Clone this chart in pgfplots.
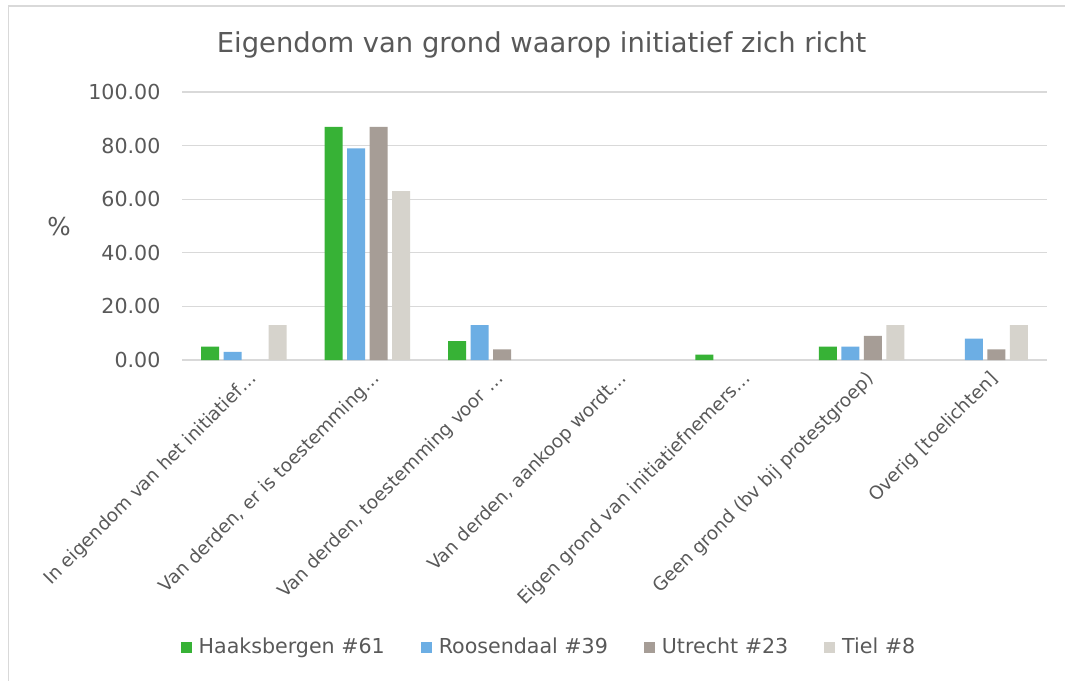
\documentclass[border=0pt]{standalone}
\usepackage{fontspec}
\setmainfont{DejaVu Sans}
\usepackage{pgfplots}
\pgfplotsset{compat=1.18}
\definecolor{cgreen}{HTML}{37B236}
\definecolor{cblue}{HTML}{6CAEE4}
\definecolor{cutr}{HTML}{A69D96}
\definecolor{ctiel}{HTML}{D6D3CC}
\definecolor{ctext}{HTML}{595959}
\definecolor{cgrid}{HTML}{D9D9D9}
\begin{document}
\begin{tikzpicture}
\useasboundingbox (0,0) rectangle (532.5pt,340pt);
\clip (0,0) rectangle (532.5pt,340pt);
\fill[white] (0,0) rectangle (532.5pt,340pt);
\draw[cgrid, line width=0.8pt] (4.2pt,-20pt) -- (4.2pt,337pt) -- (560pt,337pt);
\node[anchor=base, text=ctext, font=\fontsize{13.7pt}{16pt}\selectfont] at (270.8pt,313.5pt) {Eigendom van grond waarop initiatief zich richt};
\node[anchor=center, text=ctext, font=\fontsize{12.3pt}{14pt}\selectfont] at (29.5pt,226.5pt) {\%};
\begin{axis}[
  at={(91pt,160pt)}, anchor=south west,
  scale only axis, width=432.5pt, height=134pt,
  xmin=-0.5, xmax=6.5, ymin=0, ymax=100,
  ybar=2.25pt, bar width=9pt,
  axis line style={draw=none},
  ymajorgrids, grid style={cgrid, line width=0.6pt},
  major tick length=0pt,
  ytick={0,20,40,60,80,100},
  yticklabel style={text=ctext, font=\fontsize{10.3pt}{12pt}\selectfont, inner sep=0pt, xshift=-10.6pt},
  /pgf/number format/assume math mode=true,
  /pgf/number format/.cd, fixed, fixed zerofill, precision=2, /pgfplots/.cd,
  xtick={0,1,2,3,4,5,6},
  xticklabels={{In eigendom van het initiatief…},{Van derden, er is toestemming…},{Van derden, toestemming voor …},{Van derden, aankoop wordt…},{Eigen grond van initiatiefnemers…},{Geen grond (bv bij protestgroep)},{Overig [toelichten]}},
  xticklabel style={text=ctext, font=\fontsize{9.2pt}{11pt}\selectfont, inner sep=0pt, xshift=5pt, yshift=-8pt, rotate=45, anchor=east},
  legend columns=4,
  legend style={at={(axis description cs:0.4231,-1.0709)}, anchor=center, draw=none, fill=none,
    font=\fontsize{10.3pt}{12pt}\selectfont, text=ctext,
    /tikz/every odd column/.style={column sep=3.5pt},
    /tikz/every even column/.style={column sep=18pt},
    nodes={inner sep=0pt}},
  legend image code/.code={\fill[#1, draw=none] (0pt,-2.75pt) rectangle (5.5pt,2.75pt);},
  clip=false,
]
\addplot[fill=cgreen, draw=none] coordinates {(0,5) (1,87) (2,7) (4,2) (5,5)};
\addplot[fill=cblue, draw=none] coordinates {(0,3) (1,79) (2,13) (5,5) (6,8)};
\addplot[fill=cutr, draw=none] coordinates {(1,87) (2,4) (5,9) (6,4)};
\addplot[fill=ctiel, draw=none] coordinates {(0,13) (1,63) (5,13) (6,13)};
\legend{Haaksbergen \#61, Roosendaal \#39, Utrecht \#23, Tiel \#8}
\end{axis}
\end{tikzpicture}
\end{document}
